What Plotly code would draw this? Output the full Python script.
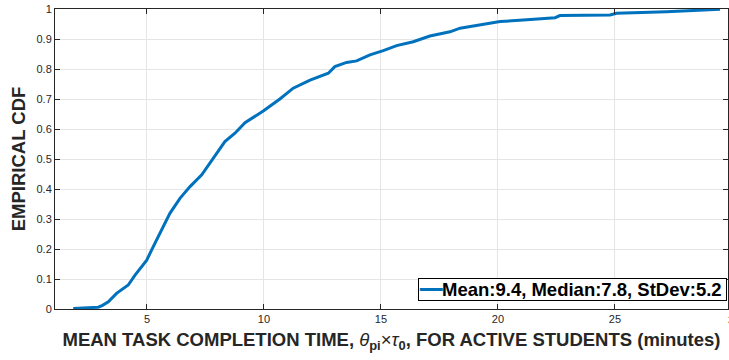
import plotly.graph_objects as go

# Empirical CDF
time_min = [1.85, 2.92, 3.10, 3.35, 3.70, 4.20, 4.49, 4.99, 5.27, 5.63, 5.98, 6.41, 6.84, 7.34, 7.83,
            8.33, 8.76, 9.19, 9.97, 10.68, 11.25, 11.97, 12.75, 13.03, 13.53, 13.96, 14.53, 15.10,
            15.67, 16.38, 17.09, 17.95, 18.38, 19.37, 20.09, 21.08, 22.44, 22.65, 24.79, 25.07,
            27.20, 29.49]
cdf = [0.002, 0.006, 0.012, 0.024, 0.052, 0.080, 0.113, 0.163, 0.208, 0.263, 0.319, 0.369, 0.408,
       0.447, 0.502, 0.558, 0.586, 0.621, 0.660, 0.700, 0.736, 0.763, 0.786, 0.808, 0.822, 0.827,
       0.847, 0.861, 0.878, 0.891, 0.910, 0.924, 0.936, 0.949, 0.958, 0.963, 0.971, 0.978, 0.980,
       0.986, 0.991, 0.999]
legend_label = "Mean:9.4, Median:7.8, StDev:5.2"
x_ticks = [5, 10, 15, 20, 25, 30]
y_ticks = [0, 0.1, 0.2, 0.3, 0.4, 0.5, 0.6, 0.7, 0.8, 0.9, 1]
y_tick_text = ["0", "0.1", "0.2", "0.3", "0.4", "0.5", "0.6", "0.7", "0.8", "0.9", "1"]

font = "Liberation Sans, Arial, Helvetica, sans-serif"
axcol = "#262626"
line_color = "#0072BD"

fig = go.Figure()
fig.add_trace(go.Scatter(
    x=time_min, y=cdf, mode="lines", name=legend_label,
    line=dict(color=line_color, width=3), showlegend=False,
))

fig.update_layout(
    width=729, height=360,
    margin=dict(l=55, r=1, t=9, b=51),
    plot_bgcolor="white", paper_bgcolor="white",
    font=dict(family=font, color=axcol, size=11),
    showlegend=False,
)

fig.update_xaxes(
    range=[1.07, 29.83], tickvals=x_ticks, ticktext=[str(t) for t in x_ticks],
    showgrid=True, gridcolor="#e5e5e5", gridwidth=1,
    showline=True, linecolor=axcol, linewidth=1, mirror="ticks",
    ticks="inside", ticklen=5, tickcolor=axcol, tickfont=dict(size=11, color=axcol),
    zeroline=False,
    title=dict(
        text="<b>MEAN TASK COMPLETION TIME, </b><i>θ</i><b><sub>pi</sub></b>×<i>τ</i><b><sub>0</sub>, FOR ACTIVE STUDENTS (minutes)</b>",
        font=dict(size=18.5, color=axcol, family=font), standoff=8,
    ),
)
fig.update_yaxes(
    range=[0, 1], tickvals=y_ticks, ticktext=y_tick_text,
    showgrid=True, gridcolor="#e5e5e5", gridwidth=1,
    showline=True, linecolor=axcol, linewidth=1, mirror="ticks",
    ticks="inside", ticklen=5, tickcolor=axcol, tickfont=dict(size=11, color=axcol),
    zeroline=False,
    title=dict(text="<b>EMPIRICAL CDF</b>", font=dict(size=18.5, color=axcol, family=font), standoff=6),
)

# compact legend box (MATLAB style)
fig.add_annotation(
    x=(727 - 55) / 673, y=(309 - 301) / 300, xref="paper", yref="paper",
    xanchor="right", yanchor="bottom", showarrow=False, align="left",
    text="<span style='color:%s'>━━</span><b>%s</b>" % (line_color, legend_label),
    font=dict(size=18.5, color="#000000", family=font),
    bgcolor="white", bordercolor="#000000", borderwidth=1, borderpad=0,
    width=307,
)

# tick label at 30 sits just past the clipped right edge in the reference
fig.add_annotation(
    x=(726 - 55) / 673, y=0, xref="paper", yref="paper", text="30", showarrow=False,
    xanchor="left", yanchor="top", yshift=-3, font=dict(size=11, color=axcol, family=font),
)

fig.write_html("out.html")
